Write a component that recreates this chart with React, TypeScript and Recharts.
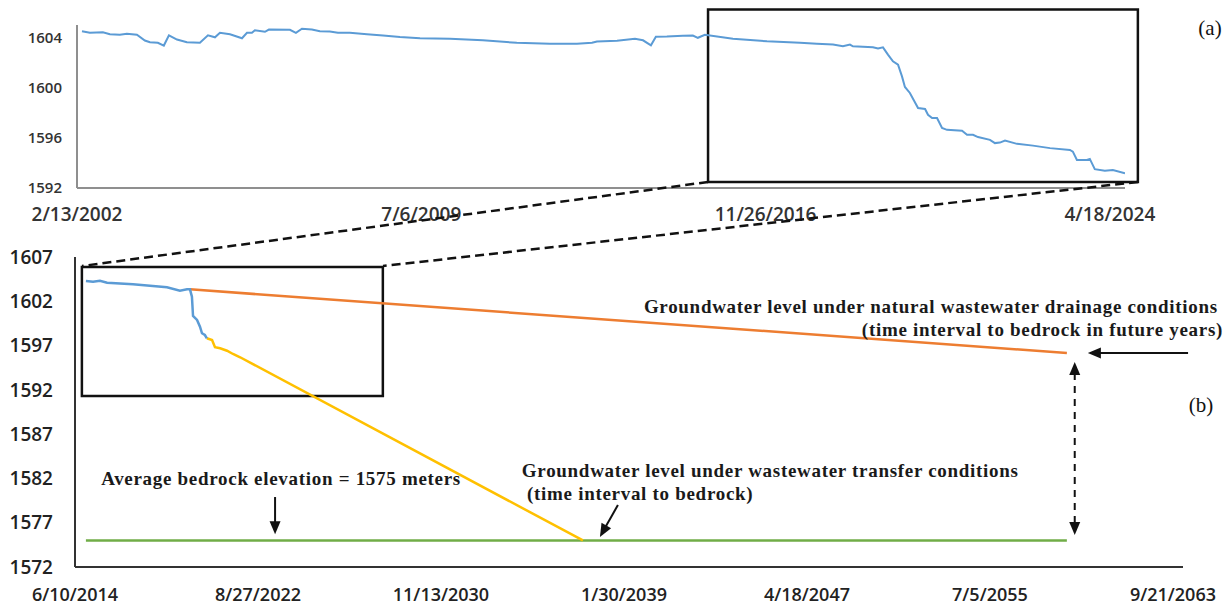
import React from 'react'
import {
  LineChart,
  Line,
  XAxis,
  YAxis,
  ReferenceArea,
  ReferenceLine,
  ReferenceDot
} from 'recharts'

// observed groundwater level (m), panel (a)
const historyDates = [
  '2002-03-24', '2002-05-25', '2002-09-04', '2002-10-29', '2003-01-15', '2003-03-11',
  '2003-05-29', '2003-07-30', '2003-09-08', '2003-11-09', '2003-12-26', '2004-02-04',
  '2004-04-07', '2004-06-24', '2004-10-04', '2004-12-06', '2005-01-30', '2005-03-10',
  '2005-05-28', '2005-08-30', '2005-10-08', '2005-11-16', '2005-12-09', '2006-02-26',
  '2006-03-29', '2006-09-10', '2006-10-27', '2006-12-13', '2007-03-01', '2007-05-03',
  '2007-07-20', '2007-09-21', '2007-12-24', '2008-05-06', '2008-09-09', '2009-01-20',
  '2009-06-26', '2010-02-16', '2010-11-01', '2011-07-25', '2012-04-10', '2012-11-08',
  '2013-03-06', '2013-04-14', '2013-09-18', '2014-02-06', '2014-04-10', '2014-06-11',
  '2014-07-20', '2014-10-14', '2015-02-17', '2015-05-06', '2015-06-14', '2015-08-08',
  '2016-03-15', '2016-12-07', '2017-08-23', '2018-01-03', '2018-05-09', '2018-07-26',
  '2018-09-19', '2018-10-12', '2019-03-18', '2019-04-27', '2019-06-05', '2019-07-14',
  '2019-08-22', '2019-10-01', '2019-11-01', '2019-11-24', '2020-01-02', '2020-03-06',
  '2020-04-30', '2020-05-23', '2020-06-24', '2020-08-02', '2020-09-10', '2020-10-19',
  '2021-02-14', '2021-03-25', '2021-05-11', '2021-06-19', '2021-09-21', '2021-10-30',
  '2021-12-08', '2022-01-17', '2022-04-21', '2022-08-24', '2023-01-05', '2023-06-10',
  '2023-07-03', '2023-08-04', '2023-10-21', '2023-11-13', '2023-12-22', '2024-03-10',
  '2024-05-12', '2024-08-15'
]
const historyLevels = [
  1604.5, 1604.38, 1604.42, 1604.26, 1604.22, 1604.3,
  1604.22, 1603.76, 1603.62, 1603.58, 1603.36, 1604.18,
  1603.84, 1603.62, 1603.58, 1604.18, 1604.02, 1604.38,
  1604.26, 1603.94, 1604.38, 1604.38, 1604.58, 1604.46,
  1604.64, 1604.62, 1604.38, 1604.7, 1604.64, 1604.5,
  1604.48, 1604.38, 1604.38, 1604.26, 1604.16, 1604.04,
  1603.94, 1603.9, 1603.78, 1603.58, 1603.5, 1603.5,
  1603.58, 1603.68, 1603.74, 1603.9, 1603.78, 1603.38,
  1604.06, 1604.08, 1604.14, 1604.16, 1603.98, 1604.22,
  1603.9, 1603.7, 1603.58, 1603.5, 1603.44, 1603.3,
  1603.44, 1603.3, 1603.22, 1603.12, 1603.22, 1602.64,
  1602.1, 1601.84, 1600.9, 1600.06, 1599.58, 1598.38,
  1598.3, 1597.84, 1597.58, 1597.58, 1596.78, 1596.64,
  1596.56, 1596.24, 1596.24, 1596.06, 1595.84, 1595.58,
  1595.62, 1595.78, 1595.52, 1595.38, 1595.18, 1595.04,
  1594.9, 1594.24, 1594.24, 1594.32, 1593.5, 1593.38,
  1593.44, 1593.18
]
const historyTicks = ['2002-02-13', '2009-07-06', '2016-11-26', '2024-04-18']
const historyLevelTicks = [1592, 1596, 1600, 1604]

// panel (b): measured part, then the two scenarios and the bedrock
const measuredDates = [
  '2014-12-06', '2015-04-02', '2015-07-24', '2015-11-18', '2017-01-15', '2018-07-27',
  '2019-02-24', '2019-06-21', '2019-08-08', '2019-09-09', '2019-09-27', '2019-12-02',
  '2020-01-19', '2020-02-21', '2020-04-08', '2020-05-11'
]
const measuredLevels = [
  1604.29, 1604.21, 1604.32, 1604.1, 1603.92, 1603.58,
  1603.2, 1603.35, 1603.35, 1602.52, 1600.34, 1599.89,
  1599.13, 1598.39, 1598.19, 1597.82
]
const transferDates = [
  '2020-05-11', '2020-08-04', '2020-09-21', '2020-12-14', '2021-04-06', '2021-07-13',
  '2021-11-07', '2037-03-28'
]
const transferLevels = [1597.82, 1597.63, 1596.81, 1596.69, 1596.42, 1596.05, 1595.68, 1575]
const drainageDates = ['2019-08-08', '2058-12-17']
const drainageLevels = [1603.35, 1596.16]
const bedrockDates = ['2014-12-06', '2058-12-17']
const bedrockLevels = [1575, 1575]
const forecastTicks = [
  '2014-06-10', '2022-08-27', '2030-11-13', '2039-01-30', '2047-04-18', '2055-07-05', '2063-09-21'
]
const forecastLevelTicks = [1572, 1577, 1582, 1587, 1592, 1597, 1602, 1607]

const ts = (s: string) => Date.parse(s)
const rows = (dates: string[], levels: number[]) =>
  dates.map((d, i) => ({ t: ts(d), level: levels[i] }))

const fmtDate = (v: number) => {
  const d = new Date(v)
  return `${d.getUTCMonth() + 1}/${d.getUTCDate()}/${d.getUTCFullYear()}`
}

const tickFont = "'Open Sans', 'Liberation Sans', sans-serif"
const noteFont = "'Liberation Serif', 'Times New Roman', serif"

// straight arrow with filled head(s)
const Arrow = ({ x1, y1, x2, y2, both, dashed }: any) => {
  const a = Math.atan2(y2 - y1, x2 - x1)
  const L = 13
  const W = 5.5
  const head = (x: number, y: number, ang: number) => {
    const bx = x - L * Math.cos(ang)
    const by = y - L * Math.sin(ang)
    return `${x},${y} ${bx - W * Math.sin(ang)},${by + W * Math.cos(ang)} ${bx + W * Math.sin(ang)},${by - W * Math.cos(ang)}`
  }
  const sx = both ? x1 + (L - 2) * Math.cos(a) : x1
  const sy = both ? y1 + (L - 2) * Math.sin(a) : y1
  return (
    <g>
      <line
        x1={sx}
        y1={sy}
        x2={x2 - (L - 2) * Math.cos(a)}
        y2={y2 - (L - 2) * Math.sin(a)}
        stroke="#111"
        strokeWidth={2}
        strokeDasharray={dashed ? '7 6' : undefined}
      />
      <polygon points={head(x2, y2, a)} fill="#111" />
      {both && <polygon points={head(x1, y1, a + Math.PI)} fill="#111" />}
    </g>
  )
}

const note = (text: string, anchor: 'start' | 'middle' | 'end') => (p: any) => (
  <text
    x={p.cx}
    y={p.cy}
    textAnchor={anchor}
    dominantBaseline="central"
    fontFamily={noteFont}
    fontWeight="bold"
    fontSize={19}
    letterSpacing={0.7}
    fill="#1a1a1a"
  >
    {text}
  </text>
)

export default function App() {
  const history = rows(historyDates, historyLevels)
  const measured = rows(measuredDates, measuredLevels)
  const transfer = rows(transferDates, transferLevels)
  const drainage = rows(drainageDates, drainageLevels)
  const bedrock = rows(bedrockDates, bedrockLevels)

  return (
    <div style={{ position: 'absolute', left: 0, top: 0, width: 1230, height: 606, background: '#fff' }}>
      {/* (a) observed record */}
      <div style={{ position: 'absolute', left: 0, top: 0 }}>
        <LineChart width={1230} height={240} margin={{ top: 25, right: 105, bottom: 12, left: 0 }}>
          <XAxis
            dataKey="t"
            type="number"
            domain={[ts('2002-02-13'), ts('2024-08-15')]}
            ticks={historyTicks.map(ts)}
            tickFormatter={fmtDate}
            allowDataOverflow
            height={40}
            stroke="#8f8f8f"
            strokeWidth={2}
            tickLine={false}
            tickSize={0}
            tickMargin={20}
            tick={{ fill: '#333', fontSize: 19, fontFamily: tickFont, fontWeight: 600 }}
          />
          <YAxis
            type="number"
            domain={[1592, 1605]}
            ticks={historyLevelTicks}
            allowDataOverflow
            width={77}
            stroke="#8f8f8f"
            strokeWidth={2}
            tickLine={false}
            tickSize={0}
            tickMargin={15}
            tick={{ fill: '#333', fontSize: 15, fontFamily: tickFont, fontWeight: 600 }}
          />
          <Line
            data={history}
            dataKey="level"
            type="linear"
            stroke="#5b9bd5"
            strokeWidth={2}
            dot={false}
            isAnimationActive={false}
          />
          <ReferenceArea
            x1={ts('2015-09-02')}
            x2={ts('2024-11-24')}
            y1={1592.48}
            y2={1606.24}
            ifOverflow="visible"
            fill="none"
            fillOpacity={0}
            stroke="#111"
            strokeWidth={2.5}
          />
        </LineChart>
      </div>

      {/* (b) projection */}
      <div style={{ position: 'absolute', left: 0, top: 230 }}>
        <LineChart width={1230} height={376} margin={{ top: 27, right: 47, bottom: 0, left: 0 }}>
          <XAxis
            dataKey="t"
            type="number"
            domain={[ts('2014-06-10'), ts('2064-03-04')]}
            ticks={forecastTicks.map(ts)}
            tickFormatter={fmtDate}
            allowDataOverflow
            height={39}
            stroke="#333"
            strokeWidth={2}
            tickLine={false}
            tickSize={0}
            tickMargin={21}
            tick={{ fill: '#222', fontSize: 18, fontFamily: tickFont, fontWeight: 600 }}
          />
          <YAxis
            type="number"
            domain={[1572, 1607]}
            ticks={forecastLevelTicks}
            allowDataOverflow
            width={75}
            stroke="#333"
            strokeWidth={2}
            tickLine={false}
            tickSize={0}
            tickMargin={22}
            tick={{ fill: '#222', fontSize: 19, fontFamily: tickFont, fontWeight: 600 }}
          />
          <Line data={bedrock} dataKey="level" type="linear" stroke="#70ad47" strokeWidth={2.5} dot={false} isAnimationActive={false} />
          <Line data={drainage} dataKey="level" type="linear" stroke="#ed7d31" strokeWidth={2.5} dot={false} isAnimationActive={false} />
          <Line data={transfer} dataKey="level" type="linear" stroke="#ffc000" strokeWidth={2.5} dot={false} isAnimationActive={false} />
          <Line data={measured} dataKey="level" type="linear" stroke="#5b9bd5" strokeWidth={2.5} dot={false} isAnimationActive={false} />

          <ReferenceArea
            x1={ts('2014-10-01')}
            x2={ts('2028-04-04')}
            y1={1591.31}
            y2={1605.87}
            ifOverflow="visible"
            fill="none"
            fillOpacity={0}
            stroke="#111"
            strokeWidth={2.5}
          />

          <ReferenceDot x={ts('2023-09-09')} y={1581.94} ifOverflow="visible" shape={note('Average bedrock elevation = 1575 meters', 'middle')} />
          <ReferenceLine
            segment={[{ x: ts('2023-06-03'), y: 1579.9 }, { x: ts('2023-06-03'), y: 1575.7 }]}
            ifOverflow="visible"
            shape={(p: any) => <Arrow {...p} />}
          />

          <ReferenceDot x={ts('2034-07-01')} y={1582.84} ifOverflow="visible" shape={note('Groundwater level under wastewater transfer conditions', 'start')} />
          <ReferenceDot x={ts('2034-09-24')} y={1580.35} ifOverflow="visible" shape={note('(time interval to bedrock)', 'start')} />
          <ReferenceLine
            segment={[{ x: ts('2038-10-23'), y: 1579.0 }, { x: ts('2038-01-01'), y: 1575.4 }]}
            ifOverflow="visible"
            shape={(p: any) => <Arrow {...p} />}
          />

          <ReferenceDot x={ts('2065-09-27')} y={1601.36} ifOverflow="visible" shape={note('Groundwater level under natural wastewater drainage conditions', 'end')} />
          <ReferenceDot x={ts('2065-12-20')} y={1598.87} ifOverflow="visible" shape={note('(time interval to bedrock in future years)', 'end')} />
          <ReferenceLine
            segment={[{ x: ts('2064-05-26'), y: 1596.16 }, { x: ts('2059-11-26'), y: 1596.16 }]}
            ifOverflow="visible"
            shape={(p: any) => <Arrow {...p} />}
          />
          <ReferenceLine
            segment={[{ x: ts('2059-04-25'), y: 1595.15 }, { x: ts('2059-04-25'), y: 1575.6 }]}
            ifOverflow="visible"
            shape={(p: any) => <Arrow {...p} both dashed />}
          />
        </LineChart>
      </div>

      {/* zoom connectors and panel letters */}
      <svg
        width={1230}
        height={606}
        style={{ position: 'absolute', left: 0, top: 0, pointerEvents: 'none' }}
      >
        <g stroke="#111" strokeWidth={2.5} strokeDasharray="9 5" fill="none">
          <line x1={708} y1={182} x2={82} y2={266} />
          <line x1={1138} y1={182} x2={383} y2={266} />
        </g>
        <text x={1210} y={28} textAnchor="middle" dominantBaseline="central" fontFamily={noteFont} fontSize={21} fill="#111">
          (a)
        </text>
        <text x={1201} y={405} textAnchor="middle" dominantBaseline="central" fontFamily={noteFont} fontSize={21} fill="#111">
          (b)
        </text>
      </svg>
    </div>
  )
}
